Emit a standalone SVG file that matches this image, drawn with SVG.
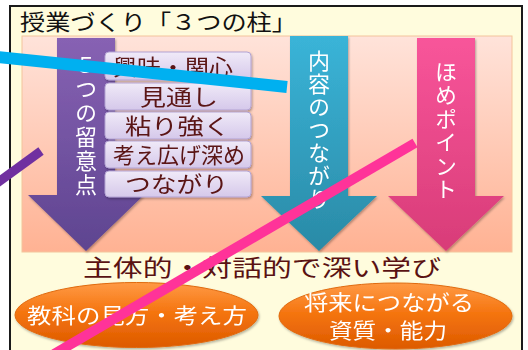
<svg xmlns="http://www.w3.org/2000/svg" width="528" height="350" viewBox="0 0 528 350">
<defs>
<linearGradient id="gPanel" x1="0" y1="0" x2="0" y2="1"><stop offset="0" stop-color="#FFE3DA"/><stop offset="1" stop-color="#FFB293"/></linearGradient>
<linearGradient id="gPurple" x1="0" y1="0" x2="0" y2="1"><stop offset="0" stop-color="#8762B3"/><stop offset="1" stop-color="#5E4490"/></linearGradient>
<linearGradient id="gBlue" x1="0" y1="0" x2="0" y2="1"><stop offset="0" stop-color="#3AB4D8"/><stop offset="1" stop-color="#2A8AA6"/></linearGradient>
<linearGradient id="gPink" x1="0" y1="0" x2="0" y2="1"><stop offset="0" stop-color="#F8559A"/><stop offset="1" stop-color="#D83C78"/></linearGradient>
<linearGradient id="gBox" x1="0" y1="0" x2="0" y2="1"><stop offset="0" stop-color="#F0EAF8"/><stop offset="1" stop-color="#D5C8EA"/></linearGradient>
<linearGradient id="gOval" x1="0" y1="0" x2="0" y2="1"><stop offset="0" stop-color="#FF9A45"/><stop offset="0.45" stop-color="#F57510"/><stop offset="1" stop-color="#DD5A00"/></linearGradient>
<filter id="sh" x="-10%" y="-10%" width="130%" height="130%"><feDropShadow dx="1" dy="1.5" stdDeviation="1.2" flood-color="#000" flood-opacity="0.3"/></filter>
</defs>
<style>
.jp{font-family:"Noto Sans CJK JP","Noto Sans CJK SC",sans-serif}
.lbl{fill:#5A1212;font-size:22px}
.vt{fill:#FFFFFF;font-size:22px;writing-mode:vertical-rl;text-anchor:middle}
.ov{fill:#FFFFFF;font-size:21px}
.box{fill:url(#gBox);stroke:#B3A3D3;stroke-width:1}
.ln{fill:none;stroke-linecap:butt}
</style>
<rect x="0" y="0" width="528" height="350" fill="#FFFFFF"/>
<g id="frame">
<rect x="10" y="6" width="512" height="360" fill="#FFFCDD" stroke="#1A1A1A" stroke-width="2"/>
<text class="jp" x="20" y="29.5" font-size="22" fill="#111" textLength="277" lengthAdjust="spacingAndGlyphs">授業づくり「３つの柱」</text>
</g>
<g id="panel">
<rect x="22" y="36" width="490" height="216" fill="url(#gPanel)" stroke="#F4C49C" stroke-width="1"/>
</g>
<g id="arrow-purple" filter="url(#sh)">
<path d="M57,38 H115 V195 H144 L86,251 L28,195 H57 Z" fill="url(#gPurple)"/>
<text class="jp vt" x="86" y="126" letter-spacing="2">５つの留意点</text>
</g>
<g id="arrow-blue" filter="url(#sh)">
<path d="M290,36 H348 V196 H377 L319,251 L261,196 H290 Z" fill="url(#gBlue)"/>
<text class="jp vt" x="319" y="130" letter-spacing="1">内容のつながり</text>
</g>
<g id="arrow-pink" filter="url(#sh)">
<path d="M417,38 H475 V196 H504 L446,251 L388,196 H417 Z" fill="url(#gPink)"/>
<text class="jp vt" x="446" y="131" letter-spacing="1.5">ほめポイント</text>
</g>
<g id="box1" filter="url(#sh)"><rect class="box" x="105" y="52" width="146" height="28" rx="4"/><text class="jp lbl" x="113" y="75" textLength="120" lengthAdjust="spacingAndGlyphs">興味・関心</text></g>
<g id="box2" filter="url(#sh)"><rect class="box" x="105" y="83" width="146" height="27" rx="4"/><text class="jp lbl" x="140" y="105" textLength="78" lengthAdjust="spacingAndGlyphs">見通し</text></g>
<g id="box3" filter="url(#sh)"><rect class="box" x="105" y="112" width="146" height="27" rx="4"/><text class="jp lbl" x="125" y="134" textLength="105" lengthAdjust="spacingAndGlyphs">粘り強く</text></g>
<g id="box4" filter="url(#sh)"><rect class="box" x="105" y="141" width="146" height="27" rx="4"/><text class="jp lbl" x="113" y="163" font-size="21" textLength="132" lengthAdjust="spacingAndGlyphs">考え広げ深め</text></g>
<g id="box5" filter="url(#sh)"><rect class="box" x="105" y="171" width="146" height="26" rx="4"/><text class="jp lbl" x="125" y="192" textLength="103" lengthAdjust="spacingAndGlyphs">つながり</text></g>
<g id="caption">
<text class="jp" x="83" y="275.5" font-size="23" fill="#5A1212" textLength="358" lengthAdjust="spacingAndGlyphs">主体的・対話的で深い学び</text>
</g>
<g id="oval-left" filter="url(#sh)">
<ellipse cx="136.5" cy="315" rx="121.5" ry="32.5" fill="url(#gOval)" stroke="#E06A10" stroke-width="1"/>
<text class="jp ov" x="27" y="323" textLength="220" lengthAdjust="spacingAndGlyphs">教科の見方・考え方</text>
</g>
<g id="oval-right" filter="url(#sh)">
<ellipse cx="395.5" cy="316" rx="116.5" ry="33" fill="url(#gOval)" stroke="#E06A10" stroke-width="1"/>
<text class="jp ov" x="304" y="310" textLength="170" lengthAdjust="spacingAndGlyphs">将来につながる</text>
<text class="jp ov" x="329" y="338" textLength="118" lengthAdjust="spacingAndGlyphs">資質・能力</text>
</g>
<g id="connectors">
<line class="ln" x1="-2" y1="57" x2="287" y2="87" stroke="#00B0F0" stroke-width="12"/>
<line class="ln" x1="-3" y1="183" x2="41" y2="151" stroke="#7030A0" stroke-width="9"/>
<line class="ln" x1="54" y1="354" x2="415" y2="143" stroke="#FF3399" stroke-width="10"/>
</g>
</svg>
